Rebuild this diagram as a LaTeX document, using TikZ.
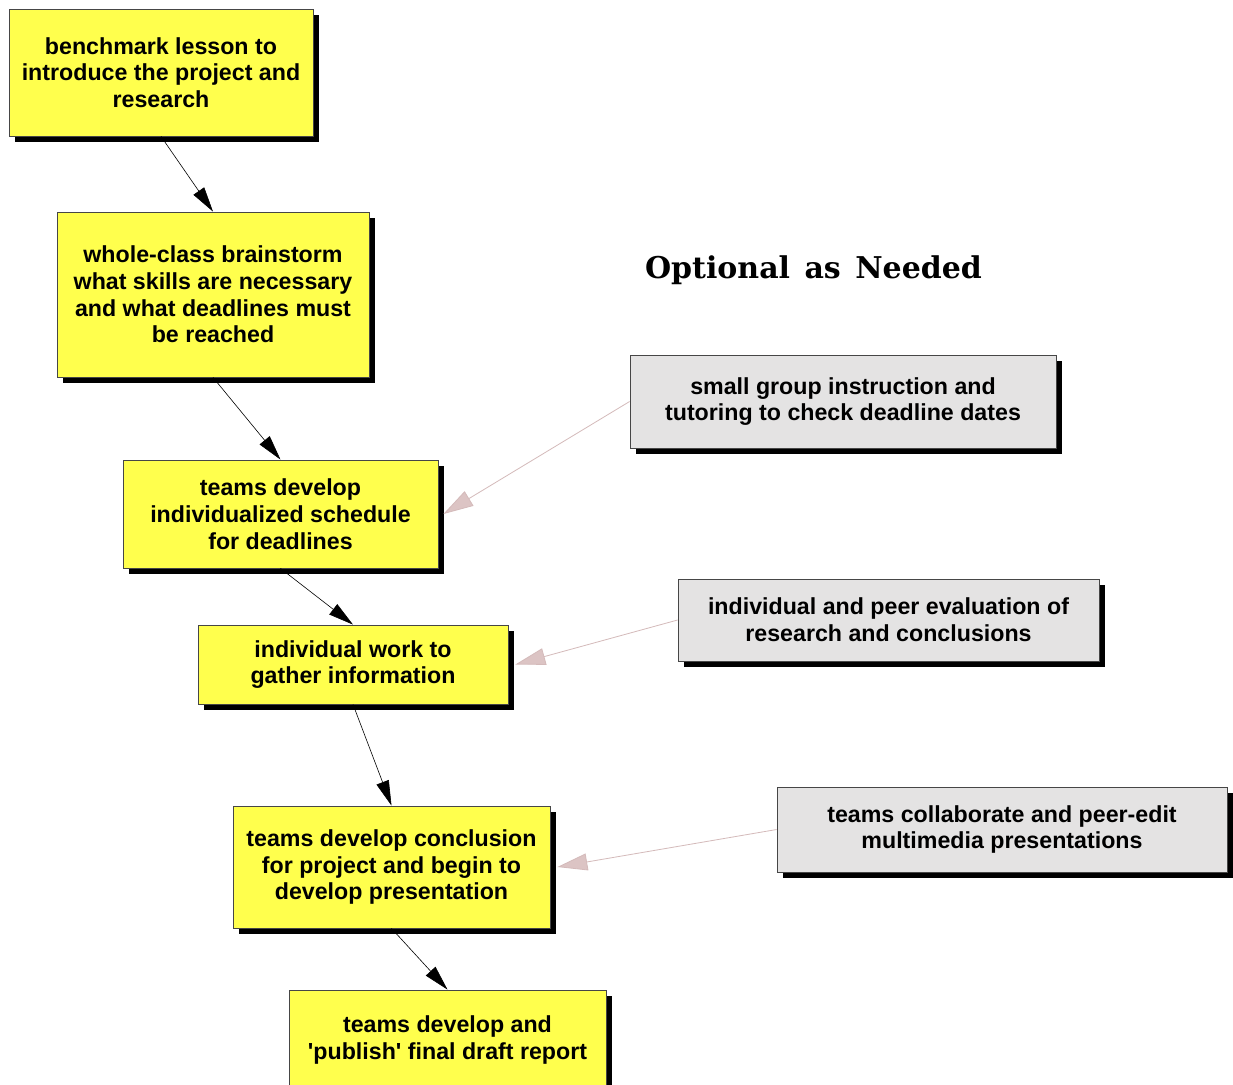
\documentclass[tikz,border=0pt]{standalone}
\usepackage{fontspec}
\setmainfont{Liberation Sans}
\newfontfamily\titlefont{DejaVu Serif}
\usetikzlibrary{arrows.meta,shadows}
\definecolor{boxyellow}{RGB}{255,255,77}
\definecolor{boxgray}{RGB}{228,227,227}
\definecolor{edgegray}{RGB}{70,70,70}
\definecolor{pinkline}{RGB}{212,186,186}
\definecolor{pinkfill}{RGB}{220,196,196}
\begin{document}
\begin{tikzpicture}[x=1pt,y=-1pt,
  stepbox/.style={draw=edgegray, line width=0.8pt, fill=boxyellow, align=center,
    font=\fontsize{23.2}{26.7}\selectfont\bfseries, inner sep=0pt,
    drop shadow={shadow xshift=5.5pt, shadow yshift=-5.5pt, fill=black, opacity=1}},
  optbox/.style={stepbox, fill=boxgray},
  flow/.style={draw=black, line width=0.6pt, -{Triangle[length=25pt,width=13pt]}},
  opt/.style={draw=pinkline, line width=0.8pt, -{Triangle[length=30pt,width=17pt,fill=pinkfill]}}]
\useasboundingbox (0,0) rectangle (1233,1084);
\fill[white] (0,0) rectangle (1233,1084);

\node[stepbox, minimum width=304pt, minimum height=127pt] (b1) at (161,72.5)
  {benchmark lesson to\\introduce the project and\\research};
\node[stepbox, minimum width=312pt, minimum height=165pt] (b2) at (213,294.5)
  {whole-class brainstorm\\what skills are necessary\\and what deadlines must\\be reached};
\node[stepbox, minimum width=315pt, minimum height=108pt] (b3) at (280.5,514)
  {teams develop\\individualized schedule\\for deadlines};
\node[stepbox, minimum width=310pt, minimum height=79pt] (b4) at (353,664.5)
  {individual work to\\gather information};
\node[stepbox, minimum width=317pt, minimum height=122pt] (b5) at (391.5,867)
  {teams develop conclusion\\for project and begin to\\develop presentation};
\node[stepbox, minimum width=317pt, minimum height=100pt] (b6) at (447.5,1040)
  {teams develop and\\\textquotesingle publish\textquotesingle\ final draft report};

\node[optbox, minimum width=426pt, minimum height=93pt] (g1) at (843,401.5)
  {small group instruction and\\tutoring to check deadline dates};
\node[optbox, minimum width=421pt, minimum height=82pt] (g2) at (888.5,620)
  {individual and peer evaluation of\\research and conclusions};
\node[optbox, minimum width=450pt, minimum height=85pt] (g3) at (1002,829.5)
  {teams collaborate and peer-edit\\multimedia presentations};

\node[font=\titlefont\fontsize{30}{36}\selectfont\bfseries, inner sep=0pt] (title) at (813.5,270)
  {Optional\hspace{4pt} as\hspace{4pt} Needed};

\draw[flow] (b1.south) -- (b2.north);
\draw[flow] (b2.south) -- (b3.north);
\draw[flow] (b3.south) -- (b4.north);
\draw[flow] (b4.south) -- (b5.north);
\draw[flow] (b5.south) -- (b6.north);

\draw[opt] (g1.west) -- ([xshift=5pt]b3.east);
\draw[opt] (g2.west) -- ([xshift=7pt]b4.east);
\draw[opt] (g3.west) -- ([xshift=7pt]b5.east);
\end{tikzpicture}
\end{document}
